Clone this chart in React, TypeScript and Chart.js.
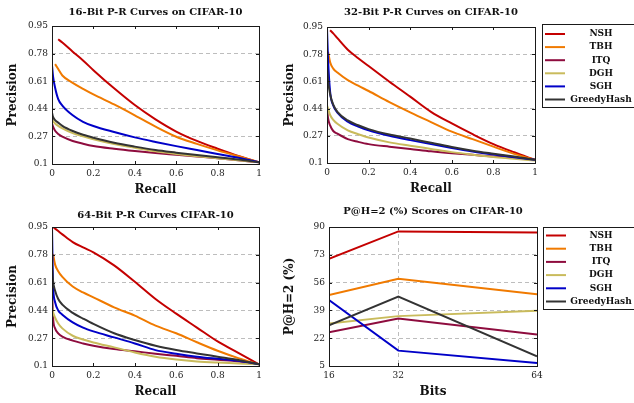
import React, { useEffect, useRef } from "react";
import { Chart, registerables } from "chart.js";

Chart.register(...registerables);

// ---------- shared ----------
const METHODS = ["NSH", "TBH", "ITQ", "DGH", "SGH", "GreedyHash"];
const COLORS = ["#c40000", "#f07a00", "#8e0c3e", "#c9bb5c", "#0000c8", "#333333"];

const RECALL = [0, 0.005, 0.015, 0.03, 0.05, 0.1, 0.15, 0.2, 0.3, 0.4, 0.5, 0.6, 0.7, 0.8, 0.9, 1];
const PR_X_TICKS = [0, 0.2, 0.4, 0.6, 0.8, 1];
const PR_Y_TICKS = [0.1, 0.27, 0.44, 0.61, 0.78, 0.95];

// ---------- 16 bit ----------
const NSH_16 = [null, null, null, 0.868, 0.848, 0.792, 0.738, 0.678, 0.566, 0.463, 0.375, 0.3, 0.242, 0.194, 0.149, 0.11];
const TBH_16 = [null, null, 0.715, 0.685, 0.645, 0.6, 0.563, 0.529, 0.467, 0.4, 0.33, 0.268, 0.224, 0.184, 0.148, 0.11];
const ITQ_16 = [0.35, 0.33, 0.305, 0.285, 0.268, 0.242, 0.225, 0.211, 0.194, 0.18, 0.168, 0.157, 0.146, 0.135, 0.123, 0.11];
const DGH_16 = [0.38, 0.365, 0.35, 0.335, 0.32, 0.29, 0.27, 0.252, 0.223, 0.2, 0.178, 0.162, 0.148, 0.136, 0.123, 0.11];
const SGH_16 = [0.708, 0.64, 0.57, 0.5, 0.46, 0.4, 0.36, 0.334, 0.297, 0.264, 0.236, 0.21, 0.186, 0.162, 0.138, 0.11];
const GH_16 = [0.416, 0.39, 0.37, 0.355, 0.335, 0.303, 0.28, 0.262, 0.231, 0.207, 0.186, 0.17, 0.155, 0.142, 0.128, 0.11];

// ---------- 32 bit ----------
const NSH_32 = [null, null, 0.93, 0.91, 0.88, 0.808, 0.755, 0.706, 0.608, 0.515, 0.42, 0.347, 0.28, 0.218, 0.167, 0.12];
const TBH_32 = [null, 0.795, 0.73, 0.69, 0.665, 0.618, 0.583, 0.55, 0.481, 0.417, 0.356, 0.296, 0.249, 0.202, 0.157, 0.12];
const ITQ_32 = [0.445, 0.38, 0.335, 0.3, 0.283, 0.249, 0.232, 0.218, 0.202, 0.188, 0.173, 0.161, 0.151, 0.141, 0.132, 0.12];
const DGH_32 = [0.46, 0.44, 0.4, 0.37, 0.345, 0.304, 0.28, 0.259, 0.229, 0.208, 0.188, 0.168, 0.152, 0.138, 0.127, 0.115];
const SGH_32 = [0.94, 0.75, 0.545, 0.46, 0.415, 0.358, 0.328, 0.304, 0.27, 0.243, 0.218, 0.194, 0.172, 0.153, 0.136, 0.12];
const GH_32 = [0.7, 0.62, 0.53, 0.465, 0.42, 0.366, 0.336, 0.312, 0.278, 0.253, 0.226, 0.2, 0.177, 0.158, 0.14, 0.12];

// ---------- 64 bit ----------
const NSH_64 = [null, 0.95, 0.94, 0.925, 0.905, 0.858, 0.825, 0.795, 0.715, 0.615, 0.51, 0.42, 0.335, 0.25, 0.18, 0.11];
const TBH_64 = [null, 0.785, 0.72, 0.68, 0.645, 0.586, 0.55, 0.52, 0.459, 0.408, 0.347, 0.3, 0.245, 0.193, 0.148, 0.11];
const ITQ_64 = [0.58, 0.4, 0.33, 0.3, 0.28, 0.255, 0.238, 0.224, 0.204, 0.19, 0.175, 0.162, 0.148, 0.138, 0.128, 0.11];
const DGH_64 = [0.465, 0.43, 0.395, 0.36, 0.33, 0.285, 0.262, 0.244, 0.214, 0.183, 0.157, 0.14, 0.128, 0.121, 0.116, 0.11];
const SGH_64 = [0.95, 0.6, 0.49, 0.44, 0.414, 0.367, 0.335, 0.312, 0.275, 0.238, 0.197, 0.175, 0.157, 0.144, 0.132, 0.11];
const GH_64 = [0.72, 0.62, 0.56, 0.51, 0.475, 0.425, 0.39, 0.357, 0.3, 0.259, 0.224, 0.198, 0.177, 0.157, 0.137, 0.11];

// ---------- P@H=2 ----------
const BITS = [16, 32, 64];
const PH_Y_TICKS = [5, 22, 39, 56, 73, 90];
const PH_NSH = [70.5, 87.3, 86.7];
const PH_TBH = [48.4, 58.3, 48.8];
const PH_ITQ = [25.7, 34.1, 24.3];
const PH_DGH = [31.0, 35.5, 38.8];
const PH_SGH = [45.4, 14.4, 6.8];
const PH_GH = [29.8, 47.4, 10.9];

const SERIF = "'DejaVu Serif', serif";

type Box = {
  left: number; right: number; top: number; bottom: number;
  yWidth: number; xHeight: number; titleTop: number; titleBottom: number;
};

function framePlugin(legend: null | { x: number; y: number; h: number; rows: number[] }) {
  return {
    id: "frameAndLegend",
    afterDraw(chart: any) {
      const ctx = chart.ctx;
      const a = chart.chartArea;
      ctx.save();
      ctx.strokeStyle = "#1a1a1a";
      ctx.lineWidth = 1;
      ctx.setLineDash([]);
      ctx.strokeRect(Math.round(a.left) + 0.5, Math.round(a.top) + 0.5, Math.round(a.right - a.left), Math.round(a.bottom - a.top));
      const xs = chart.scales.x;
      const ys = chart.scales.y;
      ctx.beginPath();
      xs.ticks.forEach((t: any) => {
        const px = Math.round(xs.getPixelForValue(t.value)) + 0.5;
        ctx.moveTo(px, a.bottom); ctx.lineTo(px, a.bottom - 3);
        ctx.moveTo(px, a.top); ctx.lineTo(px, a.top + 3);
      });
      ys.ticks.forEach((t: any) => {
        const py = Math.round(ys.getPixelForValue(t.value)) + 0.5;
        ctx.moveTo(a.left, py); ctx.lineTo(a.left + 3, py);
        ctx.moveTo(a.right, py); ctx.lineTo(a.right - 3, py);
      });
      ctx.stroke();
      if (legend) {
        ctx.strokeStyle = "#1a1a1a";
        ctx.lineWidth = 1;
        ctx.strokeRect(legend.x + 0.5, legend.y + 0.5, 120, legend.h);
        ctx.font = `bold 9px ${SERIF}`;
        ctx.textAlign = "center";
        ctx.textBaseline = "middle";
        METHODS.forEach((m, i) => {
          const y = legend.rows[i];
          ctx.strokeStyle = COLORS[i];
          ctx.lineWidth = 2;
          ctx.beginPath();
          ctx.moveTo(legend.x + 3, y);
          ctx.lineTo(legend.x + 23, y);
          ctx.stroke();
          ctx.fillStyle = "#111";
          ctx.fillText(m, 601, y);
        });
      }
      ctx.restore();
    },
  };
}

function makeConfig(opts: {
  title: string; xTitle: string; yTitle: string; box: Box;
  datasets: any[]; xMin: number; xMax: number; xTicks: number[];
  yMin: number; yMax: number; yTicks: number[]; xGrid: number[];
  legend: null | { x: number; y: number; h: number; rows: number[] };
}) {
  const { box } = opts;
  return {
    type: "line" as const,
    data: { datasets: opts.datasets },
    plugins: [framePlugin(opts.legend)],
    options: {
      responsive: false,
      animation: false as const,
      events: [],
      layout: {
        padding: { left: box.left, right: box.right, top: box.top, bottom: box.bottom },
      },
      plugins: {
        legend: { display: false },
        tooltip: { enabled: false },
        title: {
          display: true,
          text: opts.title,
          fullSize: false,
          color: "#111",
          font: { family: SERIF, size: 10, weight: "bold" as const, lineHeight: 1.2 },
          padding: { top: box.titleTop, bottom: box.titleBottom },
        },
      },
      scales: {
        x: {
          type: "linear" as const,
          min: opts.xMin,
          max: opts.xMax,
          afterBuildTicks: (s: any) => { s.ticks = opts.xTicks.map((v) => ({ value: v })); },
          afterFit: (s: any) => { s.height = box.xHeight; },
          ticks: {
            autoSkip: false, maxRotation: 0, padding: 4, color: "#222",
            font: { family: SERIF, size: 9 },
            callback: (v: any) => String(v),
          },
          grid: {
            drawTicks: false,
            color: (c: any) => (c.tick && opts.xGrid.includes(c.tick.value) ? "#bdbdbd" : "rgba(0,0,0,0)"),
            lineWidth: 1,
          },
          border: { display: false, dash: [4, 3] },
          title: {
            display: true, text: opts.xTitle, color: "#111",
            font: { family: SERIF, size: 12, weight: "bold" as const, lineHeight: 1.2 },
            padding: 0,
          },
        },
        y: {
          type: "linear" as const,
          min: opts.yMin,
          max: opts.yMax,
          afterBuildTicks: (s: any) => { s.ticks = opts.yTicks.map((v) => ({ value: v })); },
          afterFit: (s: any) => { s.width = box.yWidth; },
          ticks: {
            autoSkip: false, padding: 4, color: "#222",
            font: { family: SERIF, size: 9 },
            callback: (v: any) => String(v),
          },
          grid: {
            drawTicks: false,
            color: (c: any) => {
              const v = c.tick ? c.tick.value : null;
              return v !== null && v !== opts.yMin && v !== opts.yMax ? "#bdbdbd" : "rgba(0,0,0,0)";
            },
            lineWidth: 1,
          },
          border: { display: false, dash: [4, 3] },
          title: {
            display: true, text: opts.yTitle, color: "#111",
            font: { family: SERIF, size: 12, weight: "bold" as const, lineHeight: 1.2 },
            padding: 0,
          },
        },
      },
    },
  };
}

function prDatasets(series: (number | null)[][]) {
  return series.map((arr, i) => ({
    label: METHODS[i],
    data: RECALL.map((r, j) => ({ x: r, y: arr[j] })).filter((p) => p.y !== null),
    borderColor: COLORS[i],
    backgroundColor: COLORS[i],
    borderWidth: 2,
    pointRadius: 0,
    fill: false,
    cubicInterpolationMode: "monotone" as const,
    order: METHODS.length - i,
  }));
}

function phDatasets(series: number[][]) {
  return series.map((arr, i) => ({
    label: METHODS[i],
    data: BITS.map((b, j) => ({ x: b, y: arr[j] })),
    borderColor: COLORS[i],
    backgroundColor: COLORS[i],
    borderWidth: 2,
    pointRadius: 0,
    fill: false,
    tension: 0,
    order: METHODS.length - i,
  }));
}

const W = 634;
const H = 403;

export default function App() {
  const r1 = useRef<HTMLCanvasElement>(null);
  const r2 = useRef<HTMLCanvasElement>(null);
  const r3 = useRef<HTMLCanvasElement>(null);
  const r4 = useRef<HTMLCanvasElement>(null);

  useEffect(() => {
    const charts: Chart[] = [];
    const prCommon = {
      xMin: 0, xMax: 1, xTicks: PR_X_TICKS, yMin: 0.1, yMax: 0.95, yTicks: PR_Y_TICKS, xGrid: [] as number[],
      xTitle: "Recall", yTitle: "Precision",
    };
    charts.push(new Chart(r1.current as HTMLCanvasElement, makeConfig({
      ...prCommon,
      title: "16-Bit P-R Curves on CIFAR-10",
      box: { left: 6, right: 375, top: 0, bottom: 206, yWidth: 46, xHeight: 33, titleTop: 6, titleBottom: 8 },
      datasets: prDatasets([NSH_16, TBH_16, ITQ_16, DGH_16, SGH_16, GH_16]),
      legend: null,
    }) as any));
    charts.push(new Chart(r2.current as HTMLCanvasElement, makeConfig({
      ...prCommon,
      title: "32-Bit P-R Curves on CIFAR-10",
      box: { left: 283, right: 99, top: 0, bottom: 207, yWidth: 44, xHeight: 33, titleTop: 6, titleBottom: 9 },
      datasets: prDatasets([NSH_32, TBH_32, ITQ_32, DGH_32, SGH_32, GH_32]),
      legend: { x: 542, y: 24, h: 83, rows: [34, 47.1, 60.2, 73.3, 86.4, 99.5] },
    }) as any));
    charts.push(new Chart(r3.current as HTMLCanvasElement, makeConfig({
      ...prCommon,
      title: "64-Bit P-R Curves CIFAR-10",
      box: { left: 6, right: 375, top: 200, bottom: 4, yWidth: 46, xHeight: 33, titleTop: 9, titleBottom: 6 },
      datasets: prDatasets([NSH_64, TBH_64, ITQ_64, DGH_64, SGH_64, GH_64]),
      legend: null,
    }) as any));
    charts.push(new Chart(r4.current as HTMLCanvasElement, makeConfig({
      title: "P@H=2 (%) Scores on CIFAR-10",
      xTitle: "Bits", yTitle: "P@H=2 (%)",
      xMin: 16, xMax: 64, xTicks: BITS, yMin: 5, yMax: 90, yTicks: PH_Y_TICKS, xGrid: [32],
      box: { left: 283, right: 97, top: 200, bottom: 4, yWidth: 46, xHeight: 33, titleTop: 5, titleBottom: 10 },
      datasets: phDatasets([PH_NSH, PH_TBH, PH_ITQ, PH_DGH, PH_SGH, PH_GH]),
      legend: { x: 543, y: 227, h: 82, rows: [235.5, 248.7, 261.9, 275.1, 288.3, 301.5] },
    }) as any));
    return () => charts.forEach((c) => c.destroy());
  }, []);

  const cs: React.CSSProperties = { position: "absolute", left: 0, top: 0, width: W, height: H };
  return (
    <div style={{ position: "fixed", left: 0, top: 0, width: W, height: H, background: "#fff", overflow: "hidden" }}>
      <canvas ref={r1} width={W} height={H} style={cs} />
      <canvas ref={r2} width={W} height={H} style={cs} />
      <canvas ref={r3} width={W} height={H} style={cs} />
      <canvas ref={r4} width={W} height={H} style={cs} />
    </div>
  );
}
